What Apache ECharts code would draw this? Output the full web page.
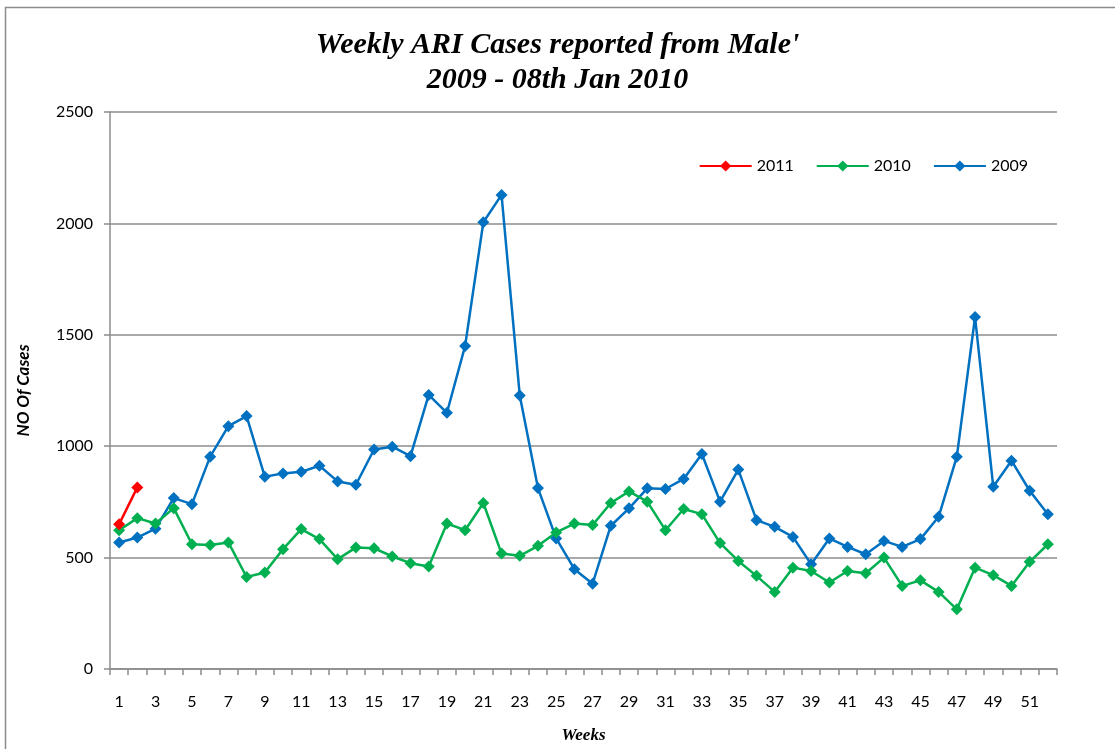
<!DOCTYPE html>
<html>
<head>
<meta charset="utf-8">
<script src="https://cdn.jsdelivr.net/npm/echarts@6/dist/echarts.min.js"></script>
<style>
html,body{margin:0;padding:0;background:#fff;}
#chart{width:1115px;height:749px;}
</style>
</head>
<body>
<div id="chart"></div>
<script>
const weeks = Array.from({length: 52}, (_, i) => String(i + 1));
const cases2009 = [568,590,630,767,740,953,1090,1135,863,878,885,912,842,827,985,998,955,1230,
  1150,1450,2005,2128,1228,812,586,448,383,643,721,811,808,853,965,751,895,
  668,638,593,470,586,548,515,575,548,583,683,953,1580,818,935,800,695];
const cases2010 = [623,677,653,722,560,557,568,413,433,538,628,583,493,545,542,505,475,460,
  653,623,745,518,508,553,613,653,646,745,797,751,623,718,695,565,485,
  418,346,455,440,388,440,430,500,373,398,346,268,455,421,373,481,560];
const cases2011 = [650,815];

const chart = echarts.init(document.getElementById('chart'));
const lbl = {fontFamily: 'Lato', fontSize: 16, color: '#000'};
chart.setOption({
  animation: false,
  backgroundColor: '#fff',
  title: {
    text: "Weekly ARI Cases reported from Male'\n2009 - 08th Jan 2010",
    left: 'center', top: 23,
    textStyle: {fontFamily: 'Liberation Serif', fontStyle: 'italic', fontWeight: 'bold', fontSize: 30, lineHeight: 35, color: '#000'}
  },
  graphic: [{
    type: 'rect', left: 3, top: 5,
    shape: {width: 1200, height: 800},
    style: {fill: 'none', stroke: '#8c8c8c', lineWidth: 1.5},
    silent: true
  }],
  legend: {
    data: ['2011', '2010', '2009'],
    top: 153, right: 82,
    itemWidth: 52, itemHeight: 14, itemGap: 22,
    textStyle: {fontFamily: 'Lato', fontSize: 16, color: '#000'}
  },
  grid: {left: 110, right: 58, top: 112, bottom: 80, containLabel: false},
  xAxis: {
    type: 'category', data: weeks, boundaryGap: true,
    name: 'Weeks', nameLocation: 'middle', nameGap: 58,
    nameTextStyle: {fontFamily: 'Liberation Serif', fontStyle: 'italic', fontWeight: 'bold', fontSize: 17, color: '#000'},
    axisLine: {lineStyle: {color: '#8c8c8c', width: 1.5}},
    axisTick: {show: true, interval: 0, length: 6, lineStyle: {color: '#8c8c8c', width: 1.5}},
    axisLabel: Object.assign({interval: 1, margin: 25}, lbl)
  },
  yAxis: {
    type: 'value', min: 0, max: 2500, interval: 500,
    name: 'NO Of Cases', nameLocation: 'middle', nameGap: 78, nameRotate: 90,
    nameTextStyle: {fontFamily: 'Lato', fontStyle: 'italic', fontWeight: 'bold', fontSize: 17, color: '#000'},
    axisLine: {show: true, lineStyle: {color: '#8c8c8c', width: 1.5}},
    axisTick: {show: true, length: 6, lineStyle: {color: '#8c8c8c', width: 1.5}},
    axisLabel: Object.assign({margin: 17, formatter: v => String(v)}, lbl),
    splitLine: {lineStyle: {color: '#8c8c8c', width: 1.5}}
  },
  series: [
    {name: '2009', type: 'line', data: cases2009, symbol: 'diamond', symbolSize: 12,
     itemStyle: {color: '#0070C0'}, lineStyle: {color: '#0070C0', width: 2.5}},
    {name: '2010', type: 'line', data: cases2010, symbol: 'diamond', symbolSize: 12,
     itemStyle: {color: '#00B050'}, lineStyle: {color: '#00B050', width: 2.5}},
    {name: '2011', type: 'line', data: cases2011, symbol: 'diamond', symbolSize: 12,
     itemStyle: {color: '#FF0000'}, lineStyle: {color: '#FF0000', width: 2.5}}
  ]
});
</script>
</body>
</html>
